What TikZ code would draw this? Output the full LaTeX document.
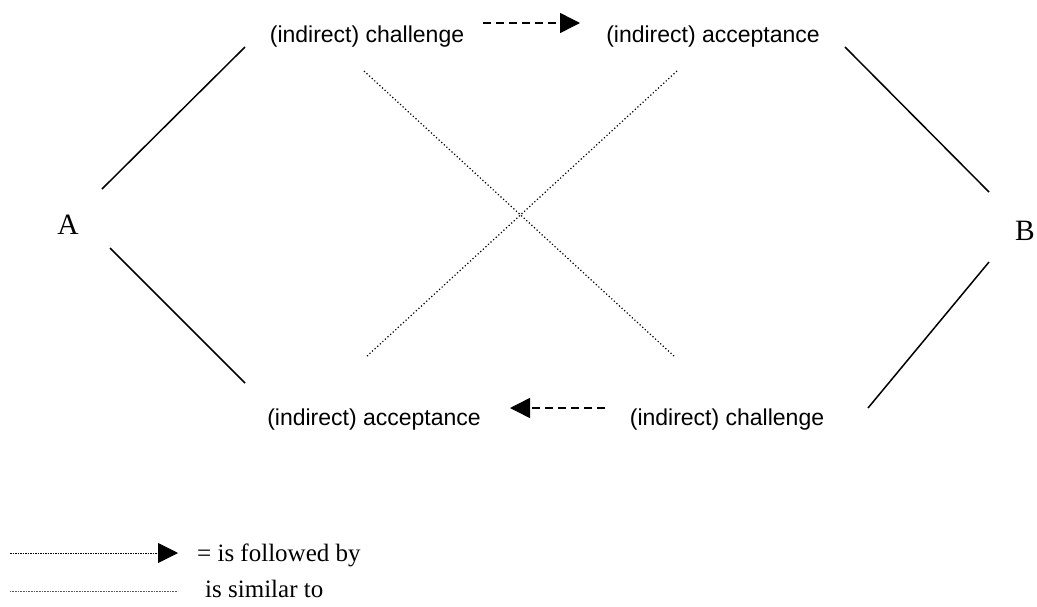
\documentclass[tikz,border=0pt]{standalone}
\usepackage{fontspec}
\setmainfont{Liberation Serif}
\newfontfamily\arialfont{Liberation Sans}
\usetikzlibrary{arrows.meta}
\tikzset{
  lbl/.style={font=\arialfont\fontsize{23}{27}\selectfont, anchor=base, inner sep=0pt},
  party/.style={font=\fontsize{29.5}{33}\selectfont, anchor=base, inner sep=0pt},
  legtext/.style={font=\fontsize{25}{29}\selectfont, anchor=base west, inner sep=0pt},
  solidline/.style={line width=1.5pt, line cap=butt},
  simline/.style={line width=1.2pt, dash pattern=on 1.2pt off 2.3pt},
  follow/.style={line width=1.5pt, dash pattern=on 8pt off 5pt, -{Triangle[length=20pt,width=20pt]}},
  legfollow/.style={line width=0.8pt, dash pattern=on 1.5pt off 1pt, -{Triangle[length=20pt,width=20pt]}},
  legsim/.style={line width=0.8pt, dash pattern=on 1pt off 0.6pt, gray!70!black},
}
\begin{document}
\begin{tikzpicture}[x=1pt,y=-1pt]
\useasboundingbox (0,0) rectangle (1037,606);
% labels
\node[lbl] (tc) at (367,42) {(indirect) challenge};
\node[lbl] (ta) at (713,42) {(indirect) acceptance};
\node[lbl] (ba) at (374,425) {(indirect) acceptance};
\node[lbl] (bc) at (727,425) {(indirect) challenge};
\node[party] (A) at (68,234) {A};
\node[party] (B) at (1025,240) {B};
% endpoints
\coordinate (a1s) at (102,189); \coordinate (a1e) at (245,47);
\coordinate (a2s) at (110,248); \coordinate (a2e) at (245,383);
\coordinate (b1s) at (845,47);  \coordinate (b1e) at (989,192);
\coordinate (b2s) at (989,262); \coordinate (b2e) at (868,408);
\coordinate (x1s) at (364,71);  \coordinate (x1e) at (675,357);
\coordinate (x2s) at (677,71);  \coordinate (x2e) at (366,357);
\coordinate (f1s) at (483,23);  \coordinate (f1e) at (580,23);
\coordinate (f2s) at (605,408); \coordinate (f2e) at (510,408);
% solid lines
\draw[solidline] (a1s) -- (a1e);
\draw[solidline] (a2s) -- (a2e);
\draw[solidline] (b1s) -- (b1e);
\draw[solidline] (b2s) -- (b2e);
% similarity (dotted)
\draw[simline] (x1s) -- (x1e);
\draw[simline] (x2s) -- (x2e);
% followed by (dashed arrows)
\draw[follow] (f1s) -- (f1e);
\draw[follow] (f2s) -- (f2e);
% legend
\coordinate (l1s) at (10,553); \coordinate (l1e) at (178,553);
\coordinate (l2s) at (10,591); \coordinate (l2e) at (178,591);
\draw[legfollow] (l1s) -- (l1e);
\draw[legsim] (l2s) -- (l2e);
\node[legtext] (lt1) at (197,561) {= is followed by};
\node[legtext] (lt2) at (205,597) {is similar to};
\end{tikzpicture}
\end{document}
